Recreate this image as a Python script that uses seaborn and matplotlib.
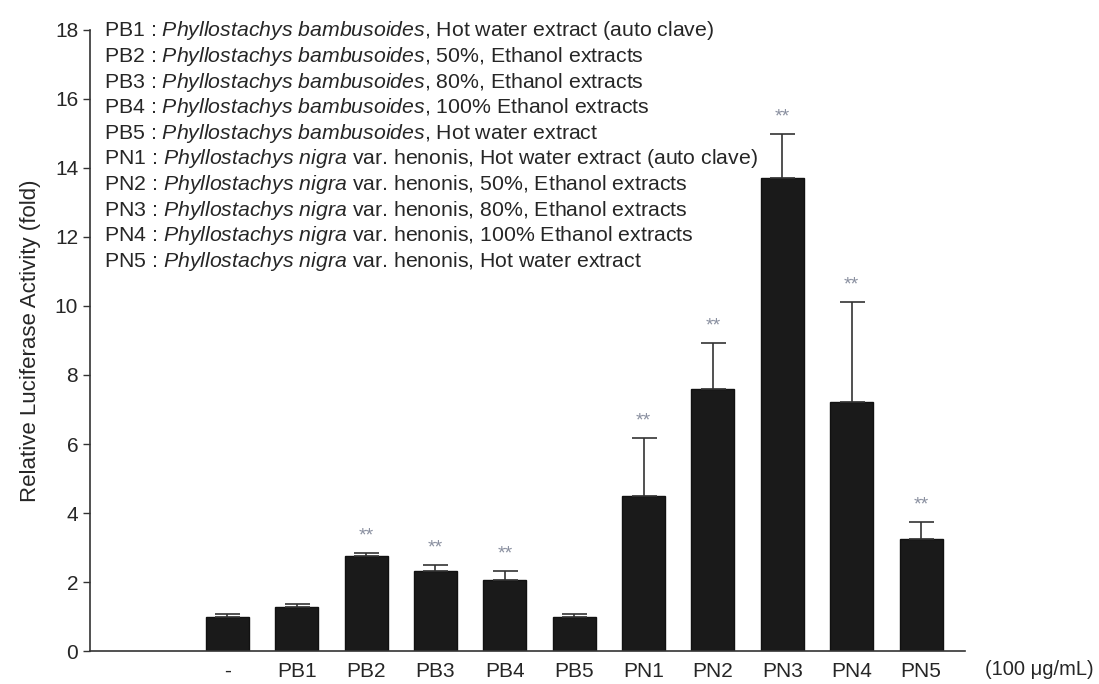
import numpy as np
import pandas as pd
import matplotlib
matplotlib.use("Agg")
import matplotlib.pyplot as plt
import seaborn as sns

# values
samples = ["-", "PB1", "PB2", "PB3", "PB4", "PB5", "PN1", "PN2", "PN3", "PN4", "PN5"]
activity = [1.0, 1.28, 2.75, 2.32, 2.06, 1.0, 4.49, 7.59, 13.71, 7.22, 3.25]
err = [0.07, 0.08, 0.09, 0.17, 0.26, 0.07, 1.68, 1.34, 1.28, 2.90, 0.49]
signif = ["", "", "**", "**", "**", "", "**", "**", "**", "**", "**"]

legend_lines = [
    ("PB1", "Phyllostachys bambusoides", ", Hot water extract (auto clave)"),
    ("PB2", "Phyllostachys bambusoides", ", 50%, Ethanol extracts"),
    ("PB3", "Phyllostachys bambusoides", ", 80%, Ethanol extracts"),
    ("PB4", "Phyllostachys bambusoides", ", 100% Ethanol extracts"),
    ("PB5", "Phyllostachys bambusoides", ", Hot water extract"),
    ("PN1", "Phyllostachys nigra", " var. henonis, Hot water extract (auto clave)"),
    ("PN2", "Phyllostachys nigra", " var. henonis, 50%, Ethanol extracts"),
    ("PN3", "Phyllostachys nigra", " var. henonis, 80%, Ethanol extracts"),
    ("PN4", "Phyllostachys nigra", " var. henonis, 100% Ethanol extracts"),
    ("PN5", "Phyllostachys nigra", " var. henonis, Hot water extract"),
]

sns.set_style("ticks")
plt.rcParams['font.family'] = ['Liberation Sans', 'DejaVu Sans']
plt.rcParams['mathtext.fontset'] = 'custom'
plt.rcParams['mathtext.rm'] = 'Liberation Sans'
plt.rcParams['mathtext.it'] = 'Liberation Sans:italic'

df = pd.DataFrame({"sample": samples, "activity": activity, "err": err})

fig = plt.figure(figsize=(10.99, 6.84), dpi=100)
ax = fig.add_axes([0.0819, 0.0482, 0.796, 0.908])

sns.barplot(data=df, x="sample", y="activity", color="#1a1a1a", width=0.62,
            edgecolor="#111111", linewidth=1, saturation=1, errorbar=None, ax=ax)

x = np.arange(len(samples))
ax.errorbar(x, df["activity"], yerr=[np.zeros(len(err)), df["err"]], fmt="none",
            ecolor="#333333", elinewidth=1.2, capsize=9, capthick=1.2)

for xi, top, s in zip(x, df["activity"] + df["err"], signif):
    if s:
        ax.text(xi, top + 0.25, s, ha="center", va="bottom", fontsize=14,
                color="#8a90a0")

ax.set_xlim(-1.98, 10.63)
ax.set_ylim(0, 18)
ax.set_yticks(range(0, 19, 2))
ax.tick_params(axis="y", labelsize=15, length=5, width=1, color="#333333")
ax.tick_params(axis="x", labelsize=15, length=0, pad=8)
ax.set_xlabel("")
ax.set_ylabel("Relative Luciferase Activity (fold)", fontsize=16, labelpad=10)
sns.despine(ax=ax)
for sp in ["left", "bottom"]:
    ax.spines[sp].set_linewidth(1.2)
    ax.spines[sp].set_color("#333333")

ax.text(1.023, -0.029, "(100 \u03bcg/mL)", transform=ax.transAxes, fontsize=14.5,
        ha="left", va="center")

for i, (code, name, rest) in enumerate(legend_lines):
    it = name.replace(" ", r"\ ")
    txt = code + " : $\\mathit{" + it + "}$" + rest
    fig.text(104 / 1099, 1 - (31 + i * 25.6) / 684, txt, fontsize=15.3,
             ha="left", va="center")

fig.savefig("out.png", dpi=100)
